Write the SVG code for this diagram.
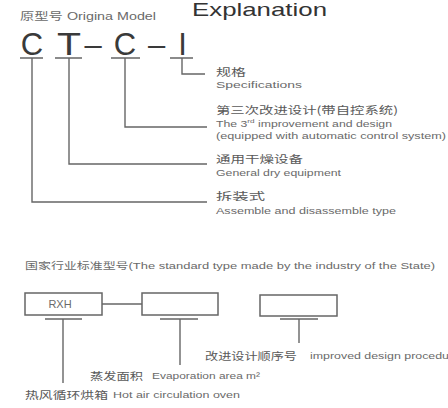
<svg xmlns="http://www.w3.org/2000/svg" width="448" height="408" viewBox="0 0 448 408">
<style>
.cn{font-family:"Noto Sans CJK SC","Noto Sans CJK JP",sans-serif;font-size:10.5px;fill:#5a5a5a;dominant-baseline:central}
.en{font-family:"Liberation Sans","Noto Sans CJK SC",sans-serif;font-size:9px;fill:#6a6a6a;dominant-baseline:central}
.big{font-family:"Liberation Sans",Arial,sans-serif;font-size:31px;fill:#3a3a3a;text-anchor:middle}
.ln{stroke:#666;stroke-width:1.4;fill:none}
.box{stroke:#666;stroke-width:1.5;fill:#fff}
</style>
<rect width="448" height="408" fill="#fff"/>
<g id="title">
<text x="192" y="16" font-family="Liberation Sans, sans-serif" font-size="19" fill="#333" textLength="135" lengthAdjust="spacingAndGlyphs">Explanation</text>
</g>
<g id="model-label">
<text class="en" x="20" y="16" style="font-size:10px" textLength="136" lengthAdjust="spacingAndGlyphs">原型号 Origina Model</text>
</g>
<g id="model-code">
<text class="big" x="32" y="55">C</text>
<text class="big" x="69" y="55" textLength="24" lengthAdjust="spacingAndGlyphs">T</text>
<text class="big" x="93" y="55">–</text>
<text class="big" x="125" y="55">C</text>
<text class="big" x="156.5" y="55">–</text>
<text class="big" x="182.5" y="55">I</text>
</g>
<g id="connectors">
<path class="ln" d="M20 58H43M32 58V202H207"/>
<path class="ln" d="M55 58H82M69 58V164H207"/>
<path class="ln" d="M111 58H140M125 58V127H207"/>
<path class="ln" d="M170 58H193M182 58V74H205"/>
<path class="ln" d="M102 304H142"/>
<path class="ln" d="M45 319H82M63 319V383"/>
<path class="ln" d="M160 319H198M180 319V365"/>
<path class="ln" d="M280 319H318M299 319V343"/>
</g>
<g id="label-spec">
<text class="cn" x="216" y="71" textLength="30" lengthAdjust="spacingAndGlyphs">规格</text>
<text class="en" x="216" y="85" textLength="86" lengthAdjust="spacingAndGlyphs">Specifications</text>
</g>
<g id="label-improvement">
<text class="cn" x="216" y="109" textLength="182" lengthAdjust="spacingAndGlyphs">第三次改进设计(带自控系统)</text>
<text class="en" x="216" y="124" textLength="176" lengthAdjust="spacingAndGlyphs">The 3<tspan font-size="6" dy="-3">rd</tspan><tspan dy="3"> improvement and design</tspan></text>
<text class="en" x="216" y="136" textLength="230" lengthAdjust="spacingAndGlyphs">(equipped with automatic control system)</text>
</g>
<g id="label-general">
<text class="cn" x="216" y="158" textLength="87" lengthAdjust="spacingAndGlyphs">通用干燥设备</text>
<text class="en" x="216" y="173" textLength="125" lengthAdjust="spacingAndGlyphs">General dry equipment</text>
</g>
<g id="label-assemble">
<text class="cn" x="216" y="195" textLength="49" lengthAdjust="spacingAndGlyphs">拆装式</text>
<text class="en" x="216" y="211" textLength="180" lengthAdjust="spacingAndGlyphs">Assemble and disassemble type</text>
</g>
<g id="standard-heading">
<text class="en" x="25" y="265" style="font-size:9.5px" textLength="410" lengthAdjust="spacingAndGlyphs">国家行业标准型号(The standard type made by the industry of the State)</text>
</g>
<g id="box-rxh">
<rect class="box" x="25" y="293" width="77" height="22"/>
<text class="en" x="60" y="304" style="font-size:11px" text-anchor="middle">RXH</text>
</g>
<g id="box-area">
<rect class="box" x="142" y="293" width="76" height="22"/>
</g>
<g id="box-seq">
<rect class="box" x="260" y="295" width="77" height="21"/>
</g>
<g id="label-seq">
<text class="cn" x="205" y="355" textLength="92" lengthAdjust="spacingAndGlyphs">改进设计顺序号</text>
<text class="en" x="310" y="356" textLength="150" lengthAdjust="spacingAndGlyphs">improved design procedure</text>
</g>
<g id="label-area">
<text class="cn" x="90" y="375" textLength="53" lengthAdjust="spacingAndGlyphs">蒸发面积</text>
<text class="en" x="152" y="376" textLength="108" lengthAdjust="spacingAndGlyphs">Evaporation area m²</text>
</g>
<g id="label-oven">
<text class="cn" x="25" y="394" textLength="83" lengthAdjust="spacingAndGlyphs">热风循环烘箱</text>
<text class="en" x="113" y="395" textLength="127" lengthAdjust="spacingAndGlyphs">Hot air circulation oven</text>
</g>
</svg>
